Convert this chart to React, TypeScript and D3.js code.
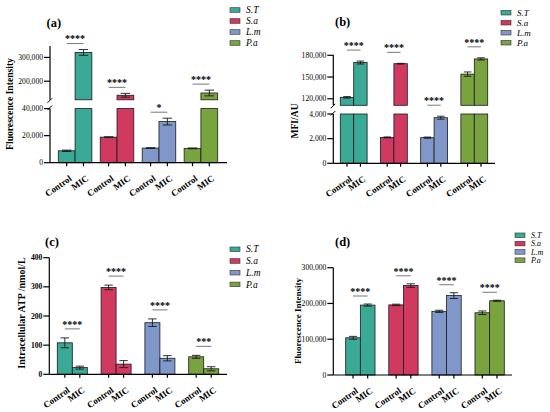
import React from 'react';
import * as d3 from 'd3';

const GROUPS = ['S.T', 'S.a', 'L.m', 'P.a'];
const CONDITIONS = ['Control', 'MIC'];
const COLORS = ['#3aa995', '#d13a60', '#7f97c9', '#78a33e'];

// (a) fluorescence intensity, broken axis
const aControl = [8800, 18900, 10800, 10600];
const aControlErr = [500, 300, 300, 300];
const aMic = [321000, 141000, 30400, 150600];
const aMicErr = [12000, 8000, 2500, 12000];
const aSig = ['****', '****', '*', '****'];
const aTicksLow = [0, 20000, 40000];
const aTicksHigh = [200000, 300000];

// (b) MFI/AU, broken axis
const bControl = [122000, 2100, 2080, 154000];
const bControlErr = [1000, 40, 50, 3000];
const bMic = [170000, 168400, 3700, 175000];
const bMicErr = [2000, 500, 120, 1500];
const bSig = ['****', '****', '****', '****'];
const bTicksLow = [0, 2000, 4000];
const bTicksHigh = [120000, 150000, 180000];

// (c) intracellular ATP
const cControl = [108, 298, 177, 60];
const cControlErr = [17, 8, 13, 5];
const cMic = [23, 35, 55, 19];
const cMicErr = [5, 12, 9, 7];
const cSig = ['****', '****', '****', '***'];
const cTicks = [0, 100, 200, 300, 400];

// (d) fluorescence intensity
const dControl = [104000, 196000, 178000, 174000];
const dControlErr = [4000, 2000, 3000, 5000];
const dMic = [195500, 250000, 222000, 207500];
const dMicErr = [3000, 5000, 8000, 1500];
const dSig = ['****', '****', '****', '****'];
const dTicks = [0, 100000, 200000, 300000];

const fmt = d3.format(',');

interface Segment {
  domain: [number, number];
  range: [number, number];
  ticks: number[];
}

interface PanelSpec {
  title: string;
  titleX: number;
  titleY: number;
  yLabel: string;
  yLabelX: number;
  yLabelY: number;
  yLabelSize: number;
  axisX: number;
  axisEnd: number;
  bandRange: [number, number];
  padding: number;
  segments: Segment[];
  control: number[];
  controlErr: number[];
  mic: number[];
  micErr: number[];
  sig: string[];
  sigOffset: number;
  tickBold: boolean;
  legendX: number;
  legendY: number;
  legendStep: number;
  legendSize: number;
}

const panels: PanelSpec[] = [
  {
    title: '(a)', titleX: 46.5, titleY: 27,
    yLabel: 'Fluorescence Intensity', yLabelX: 12.5, yLabelY: 104, yLabelSize: 9.6,
    axisX: 50, axisEnd: 227, bandRange: [58.3, 217.7], padding: 0.2,
    segments: [
      { domain: [0, 40000], range: [162.7, 108.6], ticks: aTicksLow },
      { domain: [122000, 348000], range: [99.8, 46], ticks: aTicksHigh },
    ],
    control: aControl, controlErr: aControlErr, mic: aMic, micErr: aMicErr, sig: aSig,
    sigOffset: 6, tickBold: false,
    legendX: 230, legendY: 10, legendStep: 11, legendSize: 9.5,
  },
  {
    title: '(b)', titleX: 335, titleY: 26,
    yLabel: 'MFI/AU', yLabelX: 298, yLabelY: 121, yLabelSize: 9.6,
    axisX: 333.3, axisEnd: 495, bandRange: [340.3, 487.7], padding: 0.333,
    segments: [
      { domain: [0, 4000], range: [163.3, 114], ticks: bTicksLow },
      { domain: [111000, 180400], range: [105.3, 55], ticks: bTicksHigh },
    ],
    control: bControl, controlErr: bControlErr, mic: bMic, micErr: bMicErr, sig: bSig,
    sigOffset: 11, tickBold: false,
    legendX: 501, legendY: 12.7, legendStep: 10, legendSize: 9,
  },
  {
    title: '(c)', titleX: 45, titleY: 245.5,
    yLabel: 'Intracellular ATP /nmol/L', yLabelX: 25, yLabelY: 313, yLabelSize: 10,
    axisX: 49.3, axisEnd: 227, bandRange: [57.3, 218.7], padding: 0.315,
    segments: [{ domain: [0, 400], range: [374.3, 257.7], ticks: cTicks }],
    control: cControl, controlErr: cControlErr, mic: cMic, micErr: cMicErr, sig: cSig,
    sigOffset: 9, tickBold: true,
    legendX: 230, legendY: 249.3, legendStep: 11.7, legendSize: 9.5,
  },
  {
    title: '(d)', titleX: 335, titleY: 245.5,
    yLabel: 'Fluorescence Intensity', yLabelX: 301, yLabelY: 321, yLabelSize: 9,
    axisX: 333.3, axisEnd: 512, bandRange: [345.7, 504.3], padding: 0.32,
    segments: [{ domain: [0, 300000], range: [375, 267.7], ticks: dTicks }],
    control: dControl, controlErr: dControlErr, mic: dMic, micErr: dMicErr, sig: dSig,
    sigOffset: 8, tickBold: false,
    legendX: 515, legendY: 235.3, legendStep: 8.3, legendSize: 8,
  },
];

function Panel({ p }: { p: PanelSpec }) {
  const scales = p.segments.map((s) => d3.scaleLinear().domain(s.domain).range(s.range));
  const yOf = (v: number) => {
    for (let i = 0; i < p.segments.length; i++) {
      if (v <= p.segments[i].domain[1] || i === p.segments.length - 1) return scales[i](v);
    }
    return scales[0](v);
  };
  const x0 = d3.scaleBand<string>().domain(GROUPS).range(p.bandRange).paddingInner(p.padding);
  const x1 = d3.scaleBand<string>().domain(CONDITIONS).range([0, x0.bandwidth()]);
  const bw = x1.bandwidth();
  const baseY = p.segments[0].range[0];

  const series = [
    { vals: p.control, errs: p.controlErr, cond: 'Control' },
    { vals: p.mic, errs: p.micErr, cond: 'MIC' },
  ];

  return (
    <g>
      <text x={p.titleX} y={p.titleY} fontSize={12.5} fontWeight="bold">{p.title}</text>
      <text
        transform={`translate(${p.yLabelX},${p.yLabelY}) rotate(-90)`}
        textAnchor="middle" fontSize={p.yLabelSize} fontWeight="bold"
      >{p.yLabel}</text>

      {/* bars */}
      {GROUPS.map((g, gi) => series.map((s) => {
        const x = (x0(g) ?? 0) + (x1(s.cond) ?? 0);
        const v = s.vals[gi];
        return p.segments.map((seg, si) => {
          const lo = seg.domain[0];
          if (v <= lo) return null;
          const top = Math.min(v, seg.domain[1]);
          const y = scales[si](top);
          return (
            <rect key={`${g}-${s.cond}-${si}`} x={x} y={y} width={bw} height={scales[si](lo) - y}
              fill={COLORS[gi]} stroke="#1a1a1a" strokeWidth={0.8} />
          );
        });
      }))}

      {/* error bars */}
      {GROUPS.map((g, gi) => series.map((s) => {
        const cx = (x0(g) ?? 0) + (x1(s.cond) ?? 0) + bw / 2;
        const v = s.vals[gi];
        const e = s.errs[gi];
        const yt = yOf(v + e);
        const yb = yOf(v - e);
        const cw = bw * 0.28;
        return (
          <g key={`e-${g}-${s.cond}`} stroke="#1a1a1a" strokeWidth={0.9}>
            <line x1={cx} x2={cx} y1={yt} y2={yb} />
            <line x1={cx - cw} x2={cx + cw} y1={yt} y2={yt} />
            <line x1={cx - cw} x2={cx + cw} y1={yb} y2={yb} />
          </g>
        );
      }))}

      {/* significance */}
      {GROUPS.map((g, gi) => {
        const cx1 = (x0(g) ?? 0) + (x1('Control') ?? 0) + bw / 2;
        const cx2 = (x0(g) ?? 0) + (x1('MIC') ?? 0) + bw / 2;
        const top = Math.max(p.control[gi] + p.controlErr[gi], p.mic[gi] + p.micErr[gi]);
        const y = yOf(top) - p.sigOffset;
        return (
          <g key={`s-${g}`}>
            <line x1={cx1} x2={cx2} y1={y} y2={y} stroke="#555" strokeWidth={0.8} />
            <text x={(cx1 + cx2) / 2} y={y - 1.2} textAnchor="middle" fontSize={10} fontWeight="bold">
              {p.sig[gi]}
            </text>
          </g>
        );
      })}

      {/* y axis */}
      {p.segments.map((seg, si) => (
        <g key={`ax-${si}`}>
          <line x1={p.axisX} x2={p.axisX} y1={seg.range[0]} y2={seg.range[1]} stroke="#000" strokeWidth={1.2} />
          {seg.ticks.map((t) => (
            <g key={t}>
              <line x1={p.axisX - 6} x2={p.axisX} y1={scales[si](t)} y2={scales[si](t)} stroke="#000" strokeWidth={1.2} />
              <text x={p.axisX - 7} y={scales[si](t)} dy="0.33em" textAnchor="end" fontSize={7.6}
                fontWeight={p.tickBold ? 'bold' : 'normal'}>{fmt(t)}</text>
            </g>
          ))}
        </g>
      ))}
      {p.segments.slice(0, -1).map((seg, si) => {
        const yLow = seg.range[1];
        const yHigh = p.segments[si + 1].range[0];
        return (
          <g key={`br-${si}`} stroke="#000" strokeWidth={1}>
            <line x1={p.axisX - 2.5} x2={p.axisX + 2} y1={yLow + 1.5} y2={yLow - 3} />
            <line x1={p.axisX - 2.5} x2={p.axisX + 2} y1={yHigh + 3} y2={yHigh - 1.5} />
          </g>
        );
      })}

      {/* x axis */}
      <line x1={p.axisX} x2={p.axisEnd} y1={baseY} y2={baseY} stroke="#000" strokeWidth={1.2} />
      {GROUPS.map((g) => CONDITIONS.map((c) => {
        const cx = (x0(g) ?? 0) + (x1(c) ?? 0) + bw / 2;
        return (
          <g key={`xt-${g}-${c}`}>
            <line x1={cx} x2={cx} y1={baseY} y2={baseY + 3.5} stroke="#000" strokeWidth={1.2} />
            <text transform={`translate(${cx + 2},${baseY + 12}) rotate(-35)`} dy="0.7em"
              textAnchor="end" fontSize={9} fontWeight="bold">{c}</text>
          </g>
        );
      }))}

      {/* legend */}
      {GROUPS.map((g, gi) => {
        const y = p.legendY + gi * p.legendStep;
        return (
          <g key={`lg-${g}`}>
            <rect x={p.legendX} y={y - 2.3} width={10} height={4.6} fill={COLORS[gi]} stroke="#333" strokeWidth={0.6} />
            <text x={p.legendX + 16} y={y} dy="0.33em" fontSize={p.legendSize} fontStyle="italic">{g}</text>
          </g>
        );
      })}
    </g>
  );
}

export default function App() {
  return (
    <svg width={550} height={412}
      style={{ position: 'absolute', left: 0, top: 0, background: '#fff', fontFamily: 'Liberation Serif' }}>
      <rect width={550} height={412} fill="#fff" />
      {panels.map((p) => <Panel key={p.title} p={p} />)}
    </svg>
  );
}
